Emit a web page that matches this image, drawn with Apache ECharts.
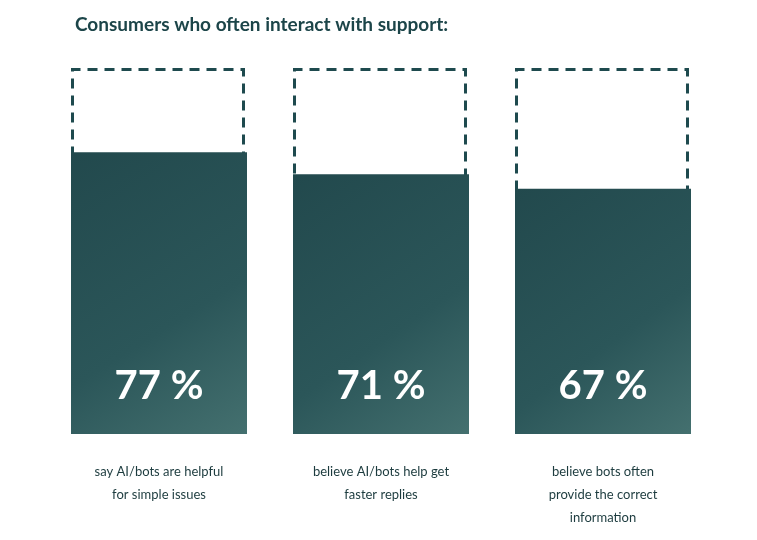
<!DOCTYPE html>
<html>
<head>
<meta charset="utf-8">
<script src="https://cdn.jsdelivr.net/npm/echarts@6/dist/echarts.min.js"></script>
<style>body{margin:0;background:#fff}#chart{width:757px;height:540px}</style>
</head>
<body>
<div id="chart"></div>
<script>
var categories = ['say AI/bots are helpful\nfor simple issues', 'believe AI/bots help get\nfaster replies', 'believe bots often\nprovide the correct\ninformation'];
var values = [77, 71, 67];
var full = [100, 100, 100];

var chart = echarts.init(document.getElementById('chart'));
var option = {
  animation: false,
  title: {
    text: 'Consumers who often interact with support:',
    left: 70, top: 10,
    textStyle: { color: '#1c4549', fontSize: 19, fontWeight: 'bold', fontFamily: 'Lato' }
  },
  grid: { left: 48, right: 43, top: 68, bottom: 106 },
  xAxis: {
    type: 'category',
    data: categories,
    axisLine: { show: false },
    axisTick: { show: false },
    axisLabel: { color: '#1c3b3e', fontSize: 13, lineHeight: 23, margin: 26, fontFamily: 'Lato', verticalAlign: 'top' }
  },
  yAxis: { type: 'value', min: 0, max: 100, show: false },
  series: [
    {
      type: 'bar', data: full, barWidth: 174, z: 1, silent: true,
      itemStyle: { color: '#fff', borderColor: '#1e4a4e', borderWidth: 3, borderType: [10, 7] }
    },
    {
      type: 'bar', data: values, barWidth: 176, barGap: '-100%', z: 2,
      itemStyle: {
        color: new echarts.graphic.LinearGradient(0, 0, 1, 1, [
          { offset: 0, color: '#22494d' },
          { offset: 0.6, color: '#2b5659' },
          { offset: 1, color: '#44706f' }
        ])
      },
      label: {
        show: true, position: 'insideBottom', distance: 28,
        formatter: '{c} %', color: '#fff', fontSize: 40, fontWeight: 'bold', fontFamily: 'Lato'
      }
    }
  ]
};
chart.setOption(option);
</script>
</body>
</html>
